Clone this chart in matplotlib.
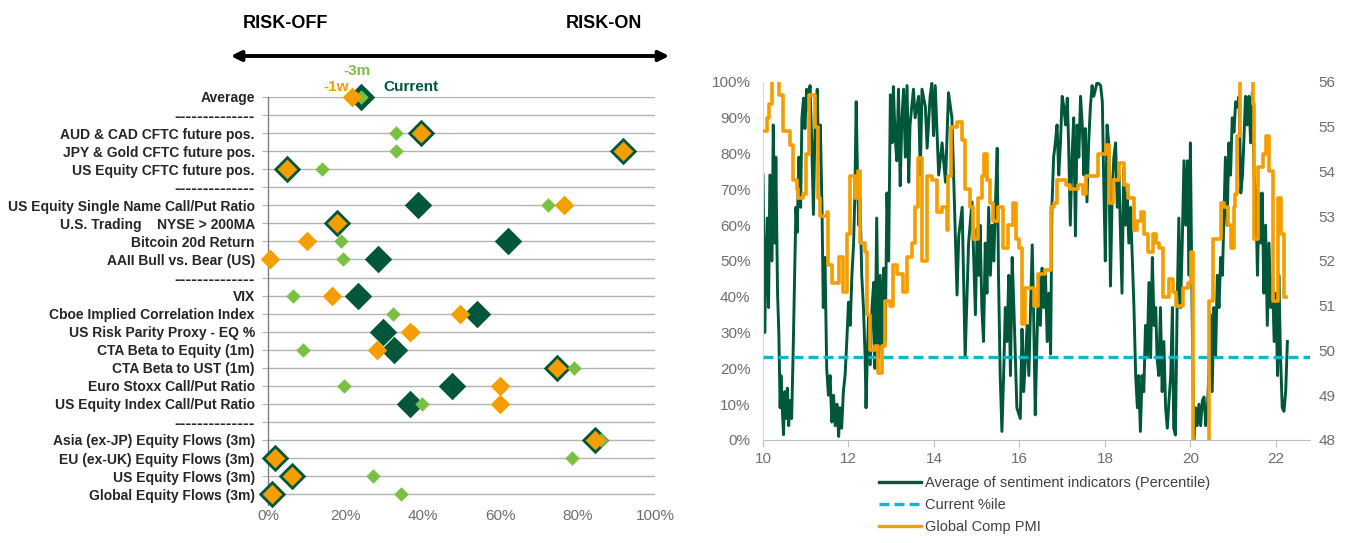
import numpy as np
import matplotlib.pyplot as plt
from matplotlib.lines import Line2D
from matplotlib.patches import FancyArrowPatch

plt.rcParams['font.family'] = ['Liberation Sans', 'DejaVu Sans']

DARK_GREEN = '#00573a'
LIGHT_GREEN = '#7ac143'
ORANGE = '#f59e00'
CYAN = '#13b5ce'
GRID = '#b3b3b3'
TICK_GRAY = '#6e6e6e'

# ---- sentiment dashboard (percentiles) ----
SEP = '-' * 14
indicators = [
    "Average", SEP,
    "AUD & CAD CFTC future pos.", "JPY & Gold CFTC future pos.", "US Equity CFTC future pos.", SEP,
    "US Equity Single Name Call/Put Ratio", "U.S. Trading    NYSE > 200MA",
    "Bitcoin 20d Return", "AAII Bull vs. Bear (US)", SEP,
    "VIX", "Cboe Implied Correlation Index", "US Risk Parity Proxy - EQ %",
    "CTA Beta to Equity (1m)", "CTA Beta to UST (1m)", "Euro Stoxx Call/Put Ratio",
    "US Equity Index Call/Put Ratio", SEP,
    "Asia (ex-JP) Equity Flows (3m)", "EU (ex-UK) Equity Flows (3m)",
    "US Equity Flows (3m)", "Global Equity Flows (3m)",
]
nan = np.nan
current = [24.0, nan, 39.5, 91.7, 5.0, nan, 38.8, 17.8, 62.0, 28.4, nan,
           23.3, 54.0, 29.7, 32.6, 74.7, 47.5, 36.7, nan, 84.5, 1.8, 6.2, 1.0]
one_week = [21.7, nan, 39.5, 91.7, 5.0, nan, 76.5, 17.8, 10.0, 0.5, nan,
            16.5, 49.6, 36.7, 28.2, 74.7, 60.0, 60.0, nan, 84.5, 1.8, 6.2, 1.0]
three_month = [24.0, nan, 33.0, 33.0, 14.0, nan, 72.4, 17.8, 18.9, 19.4, nan,
               6.5, 32.3, 37.5, 9.0, 79.0, 19.6, 39.8, nan, 86.0, 78.5, 27.0, 34.4]

# ---- history: average sentiment percentile vs global composite PMI ----
sent_year = [10.00, 10.04, 10.07, 10.10, 10.13, 10.16, 10.21, 10.24, 10.28, 10.30,
             10.34, 10.37, 10.40, 10.42, 10.45, 10.48, 10.51, 10.54, 10.57, 10.60,
             10.63, 10.67, 10.71, 10.74, 10.77, 10.80, 10.84, 10.88, 10.91, 10.95,
             10.98, 11.02, 11.06, 11.10, 11.14, 11.18, 11.22, 11.27, 11.30, 11.34,
             11.38, 11.41, 11.45, 11.49, 11.53, 11.57, 11.61, 11.65, 11.69, 11.73,
             11.77, 11.80, 11.84, 11.88, 11.92, 11.96, 12.00, 12.04, 12.08, 12.12,
             12.15, 12.18, 12.21, 12.24, 12.27, 12.31, 12.35, 12.39, 12.41, 12.44,
             12.47, 12.51, 12.55, 12.59, 12.62, 12.66, 12.70, 12.74, 12.78, 12.82,
             12.86, 12.90, 12.94, 12.98, 13.02, 13.05, 13.09, 13.13, 13.17, 13.21,
             13.25, 13.29, 13.33, 13.37, 13.41, 13.44, 13.52, 13.56, 13.64, 13.68,
             13.72, 13.80, 13.84, 13.91, 13.95, 13.99, 14.03, 14.11, 14.19, 14.27,
             14.34, 14.42, 14.46, 14.54, 14.58, 14.66, 14.73, 14.81, 14.89, 14.97,
             15.01, 15.05, 15.08, 15.12, 15.16, 15.20, 15.24, 15.28, 15.32, 15.36,
             15.40, 15.44, 15.48, 15.51, 15.55, 15.59, 15.63, 15.67, 15.71, 15.75,
             15.79, 15.83, 15.87, 15.94, 16.02, 16.06, 16.10, 16.18, 16.22, 16.26,
             16.30, 16.33, 16.37, 16.41, 16.45, 16.49, 16.53, 16.57, 16.61, 16.65,
             16.69, 16.73, 16.76, 16.80, 16.84, 16.88, 16.92, 16.96, 17.00, 17.04,
             17.08, 17.12, 17.15, 17.19, 17.23, 17.27, 17.31, 17.35, 17.39, 17.43,
             17.47, 17.51, 17.54, 17.58, 17.62, 17.66, 17.70, 17.74, 17.82, 17.90,
             17.94, 17.97, 18.01, 18.05, 18.09, 18.13, 18.17, 18.21, 18.25, 18.29,
             18.33, 18.40, 18.44, 18.48, 18.52, 18.56, 18.60, 18.68, 18.72, 18.76,
             18.79, 18.83, 18.87, 18.91, 18.95, 18.99, 19.03, 19.07, 19.11, 19.15,
             19.19, 19.22, 19.26, 19.30, 19.34, 19.38, 19.42, 19.46, 19.50, 19.54,
             19.58, 19.61, 19.65, 19.69, 19.73, 19.77, 19.81, 19.85, 19.89, 19.93,
             19.97, 20.00, 20.04, 20.08, 20.12, 20.16, 20.20, 20.24, 20.28, 20.32,
             20.36, 20.40, 20.43, 20.47, 20.51, 20.55, 20.59, 20.63, 20.67, 20.71,
             20.75, 20.79, 20.82, 20.86, 20.90, 20.94, 20.98, 21.02, 21.06, 21.10,
             21.14, 21.18, 21.22, 21.25, 21.29, 21.33, 21.37, 21.41, 21.45, 21.49,
             21.53, 21.57, 21.61, 21.65, 21.68, 21.72, 21.76, 21.80, 21.84, 21.88,
             21.92, 21.96, 22.00, 22.04, 22.07, 22.11, 22.15, 22.19, 22.23, 22.27]
sent_pct = [74, 30, 50, 62, 37, 74, 50, 88, 55, 79,
            41, 30, 9, 18, 9, 1.5, 13.5, 6, 14.5, 4,
            11, 6, 27.5, 46, 65, 58, 79, 65, 90, 95.5,
            87, 98, 92, 99, 83, 63, 90, 98, 78, 88,
            65, 37, 51, 20, 12.5, 18, 5, 12.5, 4, 10,
            1, 9, 3.3, 13.5, 18, 27.5, 38.5, 32, 46, 55,
            69, 94.5, 74, 60, 67.5, 46, 37, 23, 9, 23,
            35, 21, 37, 44, 20, 62, 23, 46, 25, 48,
            27.5, 69, 50, 96.4, 83, 98.7, 85, 78, 98, 71,
            90, 98, 79, 99, 72, 88, 98, 90, 96, 74,
            98, 93, 81.5, 96, 99.6, 85, 99, 74, 83, 72,
            97, 90, 74, 40.5, 57, 65, 23, 55, 66.5, 35,
            59, 46, 60, 37, 27.5, 55, 41, 65, 46, 60,
            50, 66.5, 81.5, 46, 18, 2.4, 18, 37, 27.5, 46,
            18, 51, 37, 9, 6, 31, 13.5, 32, 18, 37,
            54.5, 37, 7, 27.5, 46, 32, 48, 37, 46, 27.5,
            41, 24, 65, 79, 83, 88, 74, 83, 96, 93,
            88, 95.5, 83, 60, 79, 90, 57, 88, 79, 96,
            88, 74, 87, 66.5, 83, 93, 99, 96, 100, 99,
            94.5, 74, 50, 88, 83, 43, 69, 79, 83, 65,
            74, 41, 76, 60, 69, 55, 65, 37, 18, 9,
            18, 2.4, 18, 13.5, 32, 23, 44, 23, 51, 32,
            37, 23, 18, 37, 13.5, 27.5, 9, 3.3, 11, 18,
            37, 3.3, 1.4, 37, 62, 37, 55, 78, 60, 78,
            46, 83, 37, 0, 9, 4, 10, 4, 11, 12,
            4, 9, 18, 35, 13.5, 37, 23, 46, 37, 51,
            46, 65, 79, 60, 83, 74, 90, 86, 94.5, 93,
            96, 69, 74, 83, 96, 88, 96, 83, 97, 74,
            69, 46, 69, 55, 69, 41, 60, 32, 55, 37,
            46, 27.5, 41, 18, 46, 23, 9, 8, 13.5, 27.5]
current_pctile = 23.2

pmi_year = [10.00, 10.09, 10.14, 10.21, 10.37, 10.47, 10.63, 10.70, 10.80, 10.82,
            10.94, 11.01, 11.08, 11.22, 11.29, 11.34, 11.50, 11.52, 11.62, 11.78,
            11.87, 11.97, 12.04, 12.16, 12.23, 12.27, 12.39, 12.44, 12.51, 12.62,
            12.70, 12.79, 12.86, 12.98, 13.05, 13.14, 13.28, 13.37, 13.49, 13.56,
            13.63, 13.73, 13.84, 13.96, 14.08, 14.19, 14.31, 14.34, 14.41, 14.55,
            14.66, 14.73, 14.85, 14.92, 15.04, 15.13, 15.16, 15.25, 15.32, 15.39,
            15.51, 15.62, 15.74, 15.84, 15.91, 15.98, 16.07, 16.14, 16.33, 16.44,
            16.61, 16.73, 16.80, 16.89, 17.08, 17.19, 17.36, 17.48, 17.55, 17.71,
            17.85, 18.02, 18.09, 18.20, 18.32, 18.44, 18.55, 18.67, 18.76, 18.84,
            18.91, 19.00, 19.12, 19.19, 19.26, 19.37, 19.49, 19.59, 19.66, 19.82,
            19.94, 20.01, 20.05, 20.13, 20.21, 20.29, 20.37, 20.43, 20.52, 20.71,
            20.78, 20.87, 20.94, 21.01, 21.05, 21.10, 21.16, 21.46, 21.48, 21.58,
            21.69, 21.76, 21.83, 21.93, 22.04, 22.11, 22.18, 22.23]
pmi_value = [54.9, 55.2, 55.5, 56.6, 55.7, 54.9, 54.6, 53.8, 53.6, 53.4,
             53.5, 54.4, 55.7, 55.0, 53.4, 53.0, 53.1, 51.9, 51.5, 52.1,
             51.3, 52.6, 53.9, 53.4, 54.0, 52.4, 52.2, 50.8, 50.0, 50.1,
             49.5, 50.1, 51.1, 51.0, 51.9, 51.7, 51.3, 52.1, 52.4, 53.2,
             54.3, 52.0, 53.9, 53.8, 53.1, 53.2, 52.7, 53.9, 55.0, 55.1,
             54.7, 53.6, 53.2, 52.5, 53.4, 53.9, 54.4, 53.8, 53.3, 52.9,
             53.2, 52.3, 52.8, 53.3, 52.5, 52.3, 50.6, 51.4, 51.0, 51.7,
             51.8, 53.2, 53.3, 53.8, 53.7, 53.6, 53.7, 53.5, 53.9, 53.9,
             54.4, 54.6, 53.3, 53.8, 54.2, 53.7, 53.4, 52.7, 52.9, 53.1,
             52.6, 52.2, 52.6, 52.4, 52.3, 51.2, 51.6, 51.3, 51.0, 51.4,
             51.5, 52.2, 46.1, 39.4, 26.2, 36.3, 47.7, 51.1, 52.5, 53.3,
             53.2, 52.8, 52.3, 53.2, 53.5, 54.8, 58.0, 55.5, 52.5, 54.1,
             54.4, 54.8, 54.0, 51.1, 53.4, 52.6, 51.2, 51.2]

fig = plt.figure(figsize=(13.45, 5.43), dpi=100)
bold_font = dict(fontweight='bold', family=['Liberation Sans', 'DejaVu Sans'])

# ================= left: dashboard of diamonds =================
ax = fig.add_axes([0.1993, 0.0700, 0.2877, 0.7514])
rows = np.arange(len(indicators))
ax.set_xlim(0, 100)
ax.set_ylim(len(indicators) - 1 + 0.6, 0)

for r in rows:
    ax.axhline(r, color=GRID, lw=1.0, zorder=1)

ax.scatter(current, rows, marker='D', s=14.0 ** 2, color=DARK_GREEN, lw=0, zorder=3, clip_on=False)
ax.scatter(three_month, rows, marker='D', s=7.4 ** 2, color=LIGHT_GREEN, lw=0, zorder=4, clip_on=False)
ax.scatter(one_week, rows, marker='D', s=10.0 ** 2, color=ORANGE, lw=0, zorder=5, clip_on=False)

ax.set_yticks(rows)
ax.set_yticklabels(indicators, fontsize=10, color='#262626', **bold_font)
for lbl in ax.get_yticklabels():
    if lbl.get_text() == SEP:
        lbl.set_fontsize(12.5)
ax.tick_params(axis='y', length=4.5, color=GRID, pad=5)
ax.set_xticks(np.arange(0, 101, 20))
ax.set_xticklabels([f"{v}%" for v in range(0, 101, 20)], fontsize=11, color=TICK_GRAY)
ax.tick_params(axis='x', length=0, pad=3)
for side in ['top', 'right', 'bottom']:
    ax.spines[side].set_visible(False)
ax.spines['left'].set_color('#808080')
ax.spines['left'].set_linewidth(1.0)

# header: direction arrow and series key
fig.text(285 / 1345, 1 - 23 / 543, "RISK-OFF", ha='center', va='center', fontsize=13, **bold_font)
fig.text(604 / 1345, 1 - 23 / 543, "RISK-ON", ha='center', va='center', fontsize=13, **bold_font)
fig.add_artist(FancyArrowPatch(
    (228 / 1345, 1 - 56 / 543), (672 / 1345, 1 - 56 / 543), transform=fig.transFigure,
    arrowstyle='<|-|>', mutation_scale=15, lw=2.8, color='black'))
fig.text(357 / 1345, 1 - 71 / 543, "-3m", ha='center', va='center', fontsize=11,
         color=LIGHT_GREEN, **bold_font)
fig.text(349 / 1345, 1 - 87 / 543, "-1w", ha='right', va='center', fontsize=11,
         color=ORANGE, **bold_font)
fig.text(383 / 1345, 1 - 87 / 543, "Current", ha='left', va='center', fontsize=11,
         color=DARK_GREEN, **bold_font)

# ================= right: history chart =================
ax2 = fig.add_axes([0.5673, 0.1897, 0.4067, 0.6593])
ax2.plot(sent_year, sent_pct, color=DARK_GREEN, lw=2.1, zorder=2)
ax2.axhline(current_pctile, color=CYAN, lw=2.4, ls=(0, (3, 1.5)), zorder=3)
ax2.set_xlim(10, 22.8)
ax2.set_ylim(0, 100)
ax2.set_xticks(np.arange(10, 23, 2))
ax2.set_yticks(np.arange(0, 101, 10))
ax2.set_yticklabels([f"{v}%" for v in range(0, 101, 10)])
ax2.tick_params(axis='y', length=0, pad=9, labelsize=11, labelcolor=TICK_GRAY)
ax2.tick_params(axis='x', length=5, color='#bfbfbf', pad=4, labelsize=11, labelcolor=TICK_GRAY)
for side in ['top', 'right']:
    ax2.spines[side].set_visible(False)
ax2.spines['left'].set_color('#d9d9d9')
ax2.spines['bottom'].set_color('#bfbfbf')

ax3 = ax2.twinx()
ax3.plot(pmi_year, pmi_value, color=ORANGE, lw=2.6, drawstyle='steps-post', zorder=4)
ax3.set_ylim(48, 56)
ax3.set_yticks(np.arange(48, 57, 1))
ax3.tick_params(axis='y', length=0, pad=6, labelsize=11, labelcolor=TICK_GRAY)
for side in ['top', 'right', 'left', 'bottom']:
    ax3.spines[side].set_visible(False)

handles = [Line2D([], [], color=DARK_GREEN, lw=2.4),
           Line2D([], [], color=CYAN, lw=2.4, ls=(0, (3, 1.5))),
           Line2D([], [], color=ORANGE, lw=2.4)]
fig.legend(handles, ["Average of sentiment indicators (Percentile)", "Current %ile", "Global Comp PMI"],
           loc='upper left', bbox_to_anchor=(879 / 1345, 1 - 476 / 543), frameon=False,
           fontsize=10.5, handlelength=2.9, handletextpad=0.25, labelspacing=0.55,
           labelcolor='#404040', borderaxespad=0, borderpad=0)

fig.savefig('out.png', dpi=100)
